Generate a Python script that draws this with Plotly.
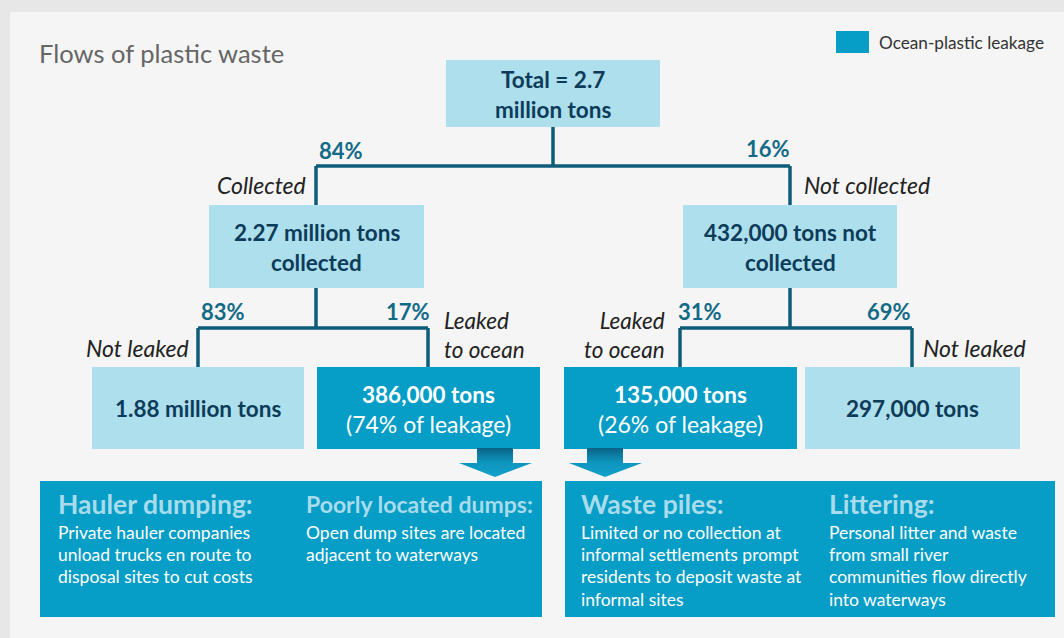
import plotly.graph_objects as go

# values
total_label = ["Total = 2.7", "million tons"]
level1_pct = ["84%", "16%"]
level1_branch = ["Collected", "Not collected"]
level1_nodes = [["2.27 million tons", "collected"], ["432,000 tons not", "collected"]]
level2_pct = ["83%", "17%", "31%", "69%"]
level2_branch = [["Not leaked"], ["Leaked", "to ocean"], ["Leaked", "to ocean"], ["Not leaked"]]
level2_tons = ["1.88 million tons", "386,000 tons", "135,000 tons", "297,000 tons"]
level2_share = ["", "(74% of leakage)", "(26% of leakage)", ""]
level2_leak = [False, True, True, False]
cause_titles = ["Hauler dumping:", "Poorly located dumps:", "Waste piles:", "Littering:"]
cause_texts = [
    ["Private hauler companies", "unload trucks en route to", "disposal sites to cut costs"],
    ["Open dump sites are located", "adjacent to waterways"],
    ["Limited or no collection at", "informal settlements prompt", "residents to deposit waste at", "informal sites"],
    ["Personal litter and waste", "from small river", "communities flow directly", "into waterways"],
]
title = "Flows of plastic waste"
legend_label = "Ocean-plastic leakage"

FONT = "Lato, 'Open Sans', sans-serif"
LIGHT = "#aedfec"
LEAK = "#069dc6"
NAVY = "#0c3c5a"
TEAL = "#136a86"
LINE = "#0e5d78"
NODE_SIZE = 22.5

fig = go.Figure()
shapes = []
ann = []


def rect(x0, y0, x1, y1, color):
    shapes.append(dict(type="rect", xref="x", yref="y", x0=x0, y0=y0, x1=x1, y1=y1,
                       fillcolor=color, line=dict(width=0), layer="below"))


def seg(x0, y0, x1, y1):
    shapes.append(dict(type="line", xref="x", yref="y", x0=x0, y0=y0, x1=x1, y1=y1,
                       line=dict(color=LINE, width=3.5)))


def txt(x, y, s, size, color, xa="center", bold=False, italic=False):
    if bold:
        s = "<b>" + s + "</b>"
    if italic:
        s = "<i>" + s + "</i>"
    ann.append(dict(x=x, y=y, xref="x", yref="y", text=s, showarrow=False, xanchor=xa,
                    align=xa, yanchor="middle", font=dict(family=FONT, size=size, color=color)))


# card background
rect(10, 12, 1064, 638, "#f5f5f5")
txt(37, 53, title, 25.5, "#666666", xa="left")

# legend
rect(836, 31, 869, 53, LEAK)
txt(877, 42, legend_label, 17.2, "#333333", xa="left")

# top node
rect(446, 60, 660, 127, LIGHT)
for i, s in enumerate(total_label):
    txt(553, 79 + 30 * i, s, NODE_SIZE, NAVY, bold=True)

# level 1
seg(553, 127, 553, 166)
seg(316, 166, 790, 166)
l1_x = [316, 790]
l1_box = [(209, 424), (683, 897)]
for k in range(2):
    seg(l1_x[k], 166, l1_x[k], 205)
    x0, x1 = l1_box[k]
    rect(x0, 205, x1, 288, LIGHT)
    for i, s in enumerate(level1_nodes[k]):
        txt((x0 + x1) / 2, 232 + 30 * i, s, NODE_SIZE, NAVY, bold=True)
txt(317, 150, level1_pct[0], 22, TEAL, xa="left", bold=True)
txt(792, 148, level1_pct[1], 22, TEAL, xa="right", bold=True)
txt(308, 185, level1_branch[0], 23, "#222222", xa="right", italic=True)
txt(802, 185, level1_branch[1], 23, "#222222", xa="left", italic=True)

# level 2
l2_line = [198, 428, 680, 912]
l2_box = [(92, 304), (317, 540), (564, 797), (805, 1020)]
for p in range(2):
    seg(l1_x[p], 288, l1_x[p], 328)
    seg(l2_line[2 * p], 328, l2_line[2 * p + 1], 328)
for k in range(4):
    seg(l2_line[k], 328, l2_line[k], 367)
    x0, x1 = l2_box[k]
    rect(x0, 367, x1, 449, LEAK if level2_leak[k] else LIGHT)
    cx = (x0 + x1) / 2
    col = "white" if level2_leak[k] else NAVY
    if level2_share[k]:
        txt(cx, 394, level2_tons[k], NODE_SIZE, col, bold=True)
        txt(cx, 424, level2_share[k], 23, col)
    else:
        txt(cx, 408, level2_tons[k], NODE_SIZE, col, bold=True)

pct_x = [199, 432, 676, 913]
pct_a = ["left", "right", "left", "right"]
br_x = [191, 442, 667, 921]
br_a = ["right", "left", "right", "left"]
for k in range(4):
    txt(pct_x[k], 311, level2_pct[k], 22, TEAL, xa=pct_a[k], bold=True)
    lines = level2_branch[k]
    ymid = 348 - 13 * (len(lines) - 1)
    txt(br_x[k], ymid, "<br>".join(lines), 23 if len(lines) == 1 else 22.5,
        "#222222", xa=br_a[k], italic=True)

# arrows from leakage boxes
for cx in [495, 605]:
    xs = [cx - 18, cx + 18, cx + 18, cx + 37, cx, cx - 36, cx - 18, cx - 18]
    ys = [448, 448, 463, 463, 477, 463, 463, 448]
    fig.add_trace(go.Scatter(x=xs, y=ys, mode="lines", fill="toself", line=dict(width=0),
                             fillgradient=dict(type="vertical",
                                               colorscale=[[0, "#12a2cb"], [0.5, "#0e95be"], [1, "#0a6386"]]),
                             hoverinfo="skip", showlegend=False))

# cause panels
rect(40, 481, 542, 617, LEAK)
rect(565, 481, 1055, 617, LEAK)
cause_x = [56, 304, 579, 827]
cause_size = [26.5, 23, 26.5, 26.5]
for k in range(4):
    txt(cause_x[k], 504, cause_titles[k], cause_size[k], "#a8dcec", xa="left", bold=True)
    for i, s in enumerate(cause_texts[k]):
        txt(cause_x[k], 532 + 22.4 * i, s, 17.5, "white", xa="left")

fig.update_layout(
    width=1064, height=638,
    margin=dict(l=0, r=0, t=0, b=0),
    paper_bgcolor="#e7e7e7", plot_bgcolor="rgba(0,0,0,0)",
    xaxis=dict(range=[0, 1064], visible=False, fixedrange=True),
    yaxis=dict(range=[638, 0], visible=False, fixedrange=True),
    shapes=shapes, annotations=ann, showlegend=False,
)
fig.write_html("out.html", config={"displayModeBar": False},
               post_script="document.body.style.margin = '0';")
